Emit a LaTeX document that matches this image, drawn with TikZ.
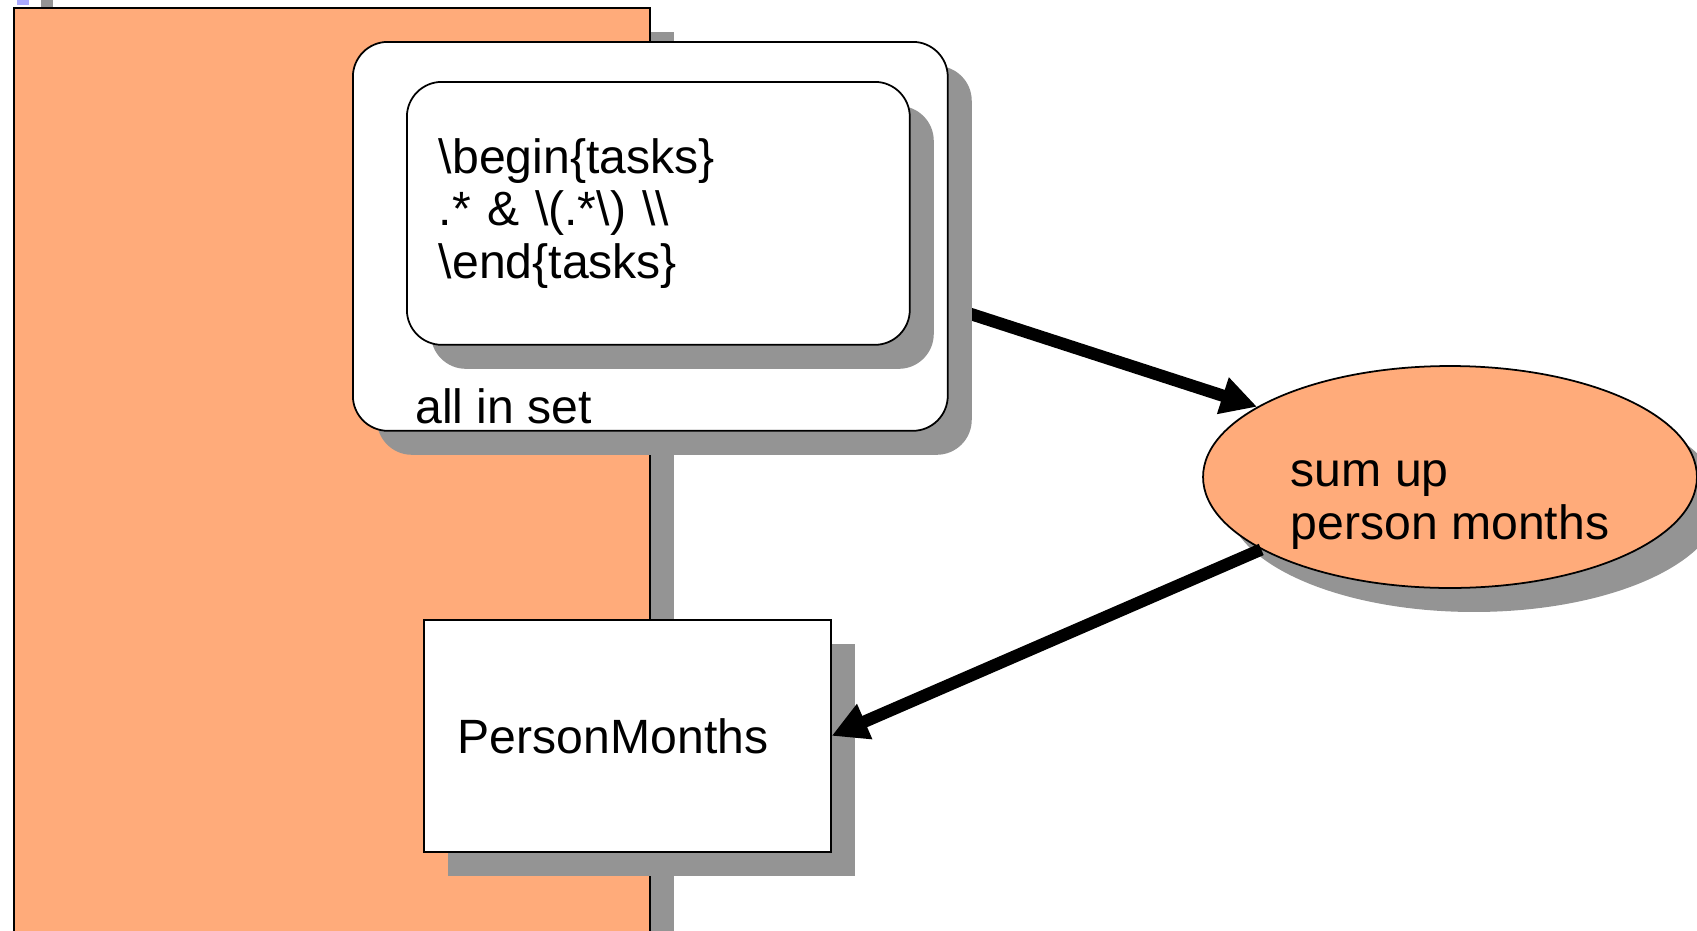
\documentclass[tikz,border=0pt]{standalone}
\usepackage{fontspec}
\setmainfont{Liberation Sans}
\usepackage{tikz}
\usetikzlibrary{arrows.meta, positioning, shapes.geometric, shadows, backgrounds}

\definecolor{peach}{RGB}{255,171,122}
\definecolor{selblue}{RGB}{170,170,255}

\begin{document}
\begin{tikzpicture}[
  x=0.02cm, y=-0.02cm,
  >={Triangle[length=0.72cm, width=0.72cm]},
  dropsh/.style={drop shadow={shadow xshift=0.48cm, shadow yshift=-0.48cm,
    fill=black!42, opacity=1}},
  txt/.style={font=\fontsize{27.4pt}{30pt}\selectfont},
  pool/.style={rectangle, draw=black, line width=1pt, fill=peach, dropsh,
    minimum width=12.72cm, minimum height=19.9cm},
  setbox/.style={rectangle, rounded corners=0.7cm, draw=black, line width=1pt,
    fill=white, dropsh},
  store/.style={rectangle, draw=black, line width=1pt, fill=white, dropsh,
    txt, align=left, inner xsep=0.68cm, text width=6.78cm,
    minimum width=8.14cm, minimum height=4.64cm},
  action/.style={ellipse, draw=black, line width=1pt, fill=peach, dropsh,
    inner sep=0pt, minimum width=9.88cm, minimum height=4.44cm},
  arr/.style={->, line width=7pt, black},
]
\useasboundingbox (0,0) rectangle (1697,930);
\clip (0,0) rectangle (1697,930);

% cut-off shape at the top
\fill[selblue, dropsh] (17,-30) rectangle (29,5);

% background pool
\node[pool, anchor=north west] (pool) at (13,7) {};

% regex set
\node[setbox, anchor=north west, minimum width=11.9cm, minimum height=7.78cm] (allset) at (352,41) {};
\node[setbox, txt, anchor=north west, align=left, inner xsep=0.64cm, text width=8.78cm,
  minimum width=10.06cm, minimum height=5.26cm] (tasks) at (406,81)
  {\textbackslash begin\{tasks\}\\.* \& \textbackslash(.*\textbackslash) \textbackslash\textbackslash\\\textbackslash end\{tasks\}};
\node[txt, anchor=base west, inner sep=0pt] (setlbl) at ([xshift=1.26cm, yshift=0.16cm]allset.south west) {all in set};

% summing step
\node[action] (sumup) at (1450,477) {};
\node[txt, align=left, inner sep=0pt] (sumuptext) at ([yshift=-0.56cm]sumup.center) {sum up\\person months};

% result
\node[store, anchor=north west] (pm) at (423,619) {PersonMonths};

% Arrows
\begin{scope}[on background layer]
\draw[arr] ([yshift=-1.41cm]allset.east) -- (sumup.160);
\end{scope}
\draw[arr] (sumup.201) -- (pm.east);

\end{tikzpicture}
\end{document}
